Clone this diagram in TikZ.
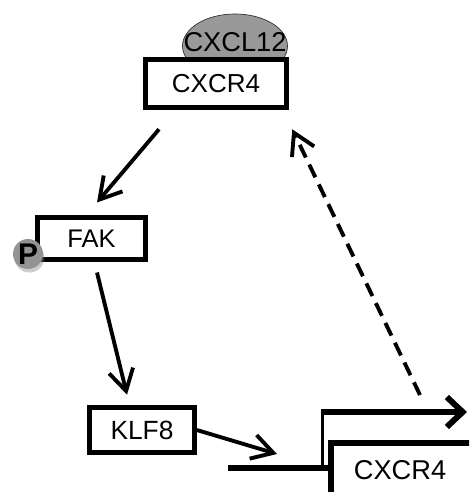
\documentclass[tikz,border=0pt]{standalone}
\usepackage{fontspec}
\setmainfont{Liberation Sans}
\usetikzlibrary{arrows.meta,calc,shapes.geometric,shadows}

\tikzset{
  box/.style={draw, line width=2.6pt, fill=white, inner sep=0pt},
  link/.style={line width=2.2pt, -{Straight Barb[length=12pt,width=14pt]}},
  gene/.style={line width=3.4pt},
}

\begin{document}
\begin{tikzpicture}[x=0.02cm, y=-0.02cm]
      \clip (0,0) rectangle (469,492);
      % Ligand and receptor
      \node[ellipse, draw=gray!40!black, fill=gray!80, minimum width=2.1cm, minimum height=1.28cm, inner sep=0pt, font=\fontsize{15.5}{17}\selectfont] (cxcl) at (235,46) {};
      \node[font=\fontsize{15.5}{17}\selectfont] (cxcltext) at (235,42) {CXCL12};
      \node[box, minimum width=2.82cm, minimum height=0.96cm, font=\fontsize{14.8}{16}\selectfont] (rec) at (216,83.5) {CXCR4};
      % Kinase and transcription factor
      \node[box, minimum width=2.17cm, minimum height=0.85cm, font=\fontsize{14.5}{16}\selectfont] (fak) at (91.5,238.5) {FAK};
      \node[circle, fill=gray!85, minimum size=0.6cm, inner sep=0pt, drop shadow={opacity=0.4, shadow xshift=0.8pt, shadow yshift=-2pt}, font=\bfseries\fontsize{17}{18}\selectfont] (p) at (28,254) {P};
      \node[box, minimum width=2.1cm, minimum height=0.9cm, font=\fontsize{15}{16}\selectfont] (klf) at (142,430) {KLF8};
      % Gene
      \draw[line width=3pt] (331,443) rectangle (520,540);
      \node[font=\fontsize{15.5}{17}\selectfont] (gene) at (400,470) {CXCR4};
      \coordinate (tss) at (322,468);
      \draw[gene] (228,468) -- (330,468);
      \draw[line width=1.7pt] (tss) -- (322,412);
      \draw[gene, -{Straight Barb[length=9pt,width=17pt]}] (320.5,412) -- (467,412);
      % Signalling arrows
      \draw[link] ($(rec.south)+(-57,19.5)$) -- ($(fak.north)+(5.5,-12.5)$);
      \draw[link] ($(fak.south)+(5.5,10.5)$) -- ($(klf.north)+(-15,-10.5)$);
      \coordinate (bind) at (277,454);
      \draw[link] (klf.east) -- (bind);
      \draw[link, dash pattern=on 8pt off 4.5pt] ($(gene)+(20,-75)$) -- ($(rec.south east)+(3.5,19.5)$);
\end{tikzpicture}
\end{document}
